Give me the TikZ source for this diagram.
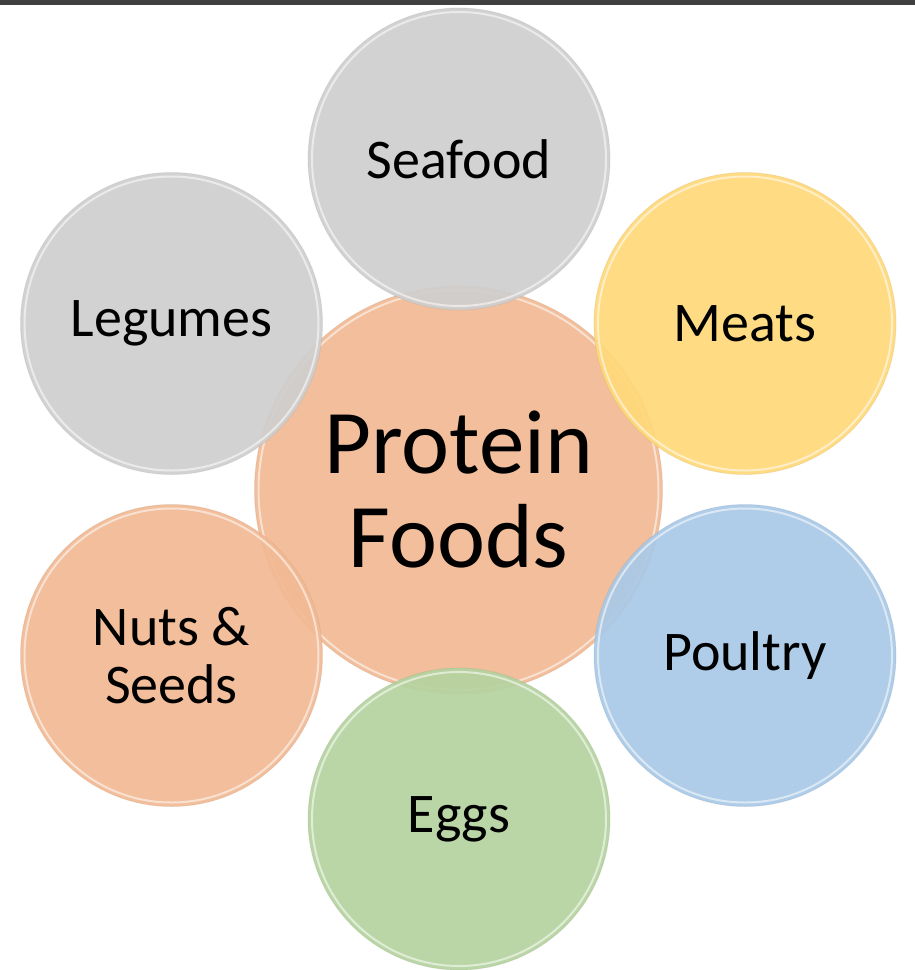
\documentclass[tikz,border=0pt]{standalone}
\usepackage{fontspec}
\setmainfont{Carlito}
\definecolor{cgray}{HTML}{CFCFCF}
\definecolor{corange}{HTML}{F2BA94}
\definecolor{cyellow}{HTML}{FFD97A}
\definecolor{cblue}{HTML}{A9C9E7}
\definecolor{cgreen}{HTML}{B5D3A0}
\definecolor{topbar}{HTML}{404040}
\begin{document}
\begin{tikzpicture}[x=1pt,y=-1pt,
  bubble/.style={circle, inner sep=0pt, minimum size=302pt, fill opacity=0.93, text opacity=1,
    font=\fontsize{56}{58}\selectfont, align=center, draw=#1!80!black, draw opacity=0.25, line width=0.8pt, fill=#1},
  hub/.style={bubble=#1, minimum size=408pt, font=\fontsize{91}{94}\selectfont},
  rim/.style={draw=white, line width=2pt, draw opacity=0.55}]
\useasboundingbox (0,0) rectangle (915,970);
\fill[white] (0,0) rectangle (915,970);
\fill[topbar] (0,0) rectangle (915,5);
\node[hub=corange] (hub) at (458.5,490) {Protein\\Foods};
\draw[rim] (hub.center) circle (200);
\node[bubble=cgray] (seafood) at (459,159) {Seafood};
\draw[rim] (seafood.center) circle (147);
\node[bubble=cgray] (legumes) at (171.5,323.5) {Legumes};
\draw[rim] (legumes.center) circle (147);
\node[bubble=cyellow] (meats) at (745,323.5) {Meats};
\draw[rim] (meats.center) circle (147);
\node[bubble=corange] (nuts) at (171.5,655.5) {Nuts \&\\Seeds};
\draw[rim] (nuts.center) circle (147);
\node[bubble=cblue] (poultry) at (745,655.5) {Poultry};
\draw[rim] (poultry.center) circle (147);
\node[bubble=cgreen] (eggs) at (459,819) {Eggs};
\draw[rim] (eggs.center) circle (147);
\end{tikzpicture}
\end{document}
